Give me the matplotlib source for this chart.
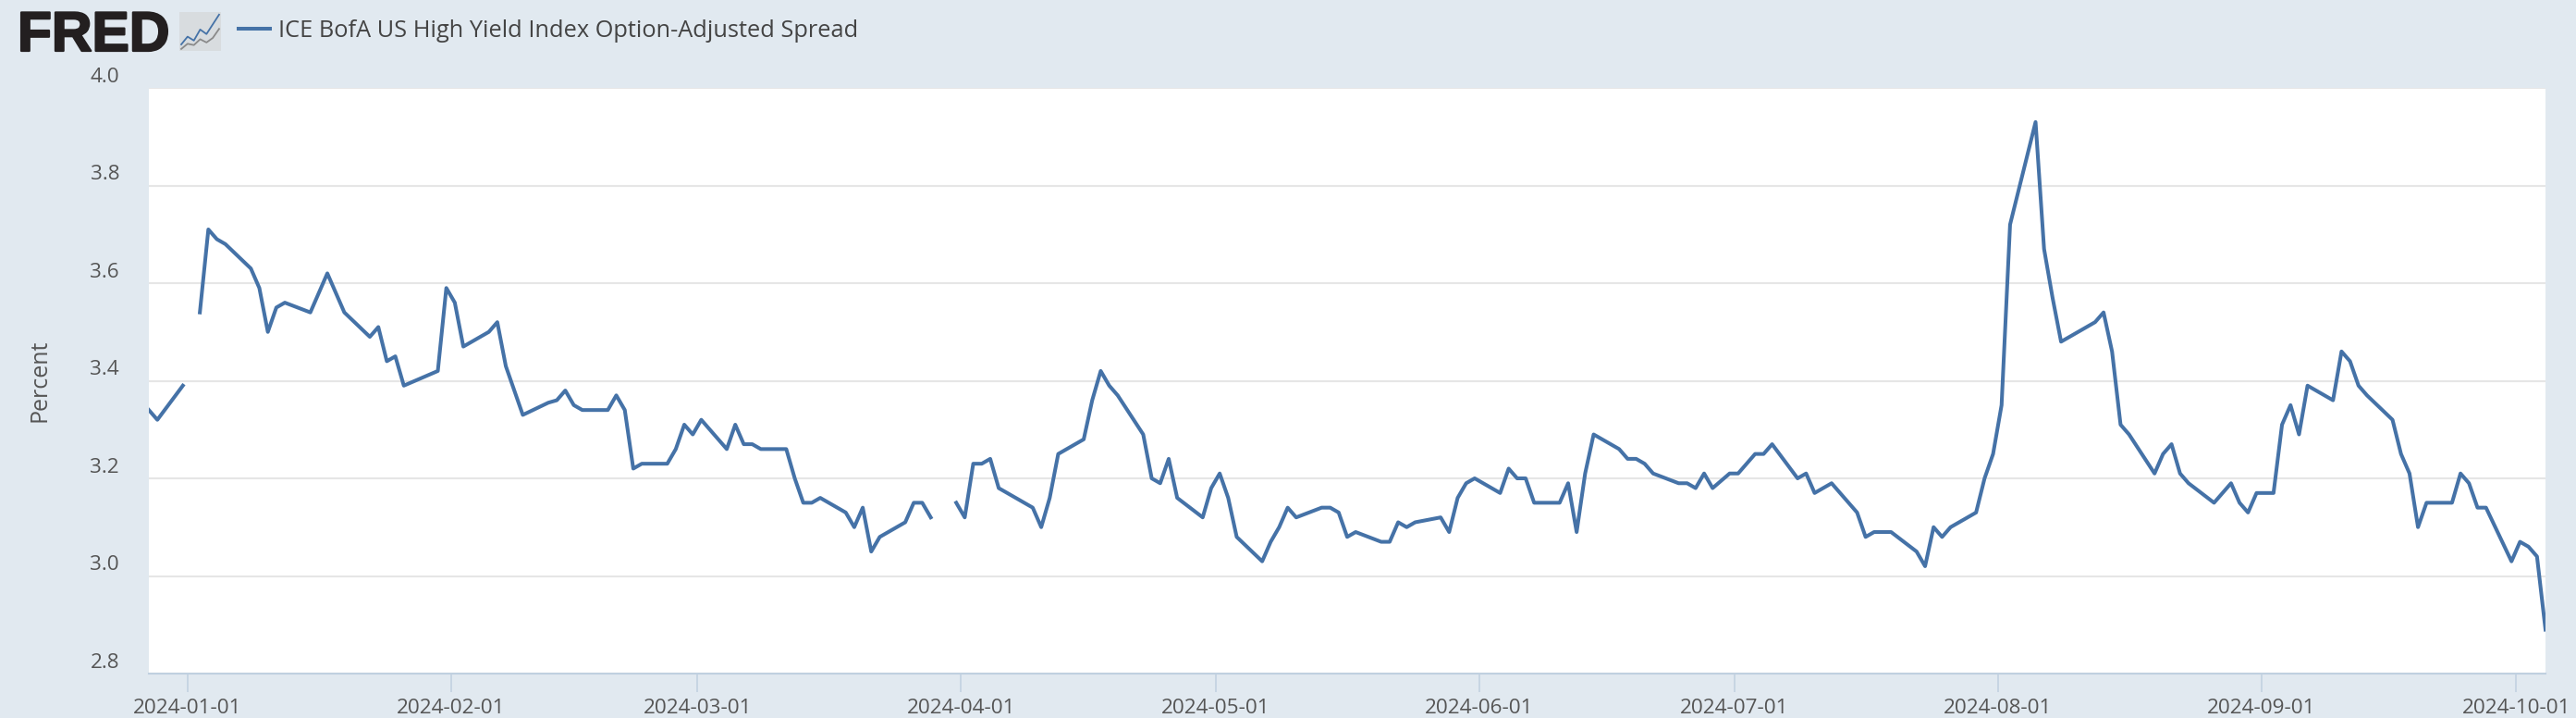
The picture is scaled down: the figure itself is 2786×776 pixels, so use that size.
import numpy as np
import pandas as pd
import matplotlib
matplotlib.use('Agg')
import matplotlib.pyplot as plt
import matplotlib.dates as mdates
import matplotlib.transforms as mtrans
import matplotlib.patheffects as pe

plt.rcParams['font.family'] = ['Open Sans', 'DejaVu Sans']

series_name = 'ICE BofA US High Yield Index Option-Adjusted Spread'

# None = missing day, the line breaks there
dec_jan = [('2023-12-27', 3.34), ('2023-12-28', 3.32), ('2023-12-31', 3.39), ('2024-01-01', None),
           ('2024-01-02', 3.54), ('2024-01-03', 3.71), ('2024-01-04', 3.69), ('2024-01-05', 3.68),
           ('2024-01-08', 3.63), ('2024-01-09', 3.59), ('2024-01-10', 3.50), ('2024-01-11', 3.55),
           ('2024-01-12', 3.56), ('2024-01-15', 3.54), ('2024-01-16', 3.58), ('2024-01-17', 3.62),
           ('2024-01-19', 3.54), ('2024-01-22', 3.49), ('2024-01-23', 3.51), ('2024-01-24', 3.44),
           ('2024-01-25', 3.45), ('2024-01-26', 3.39), ('2024-01-30', 3.42), ('2024-01-31', 3.59)]
feb = [('2024-02-01', 3.56), ('2024-02-02', 3.47), ('2024-02-05', 3.50), ('2024-02-06', 3.52),
       ('2024-02-07', 3.43), ('2024-02-08', 3.38), ('2024-02-09', 3.33), ('2024-02-12', 3.355),
       ('2024-02-13', 3.36), ('2024-02-14', 3.38), ('2024-02-15', 3.35), ('2024-02-16', 3.34),
       ('2024-02-19', 3.34), ('2024-02-20', 3.37), ('2024-02-21', 3.34), ('2024-02-22', 3.22),
       ('2024-02-23', 3.23), ('2024-02-26', 3.23), ('2024-02-27', 3.26), ('2024-02-28', 3.31),
       ('2024-02-29', 3.29)]
mar = [('2024-03-01', 3.32), ('2024-03-04', 3.26), ('2024-03-05', 3.31), ('2024-03-06', 3.27),
       ('2024-03-07', 3.27), ('2024-03-08', 3.26), ('2024-03-11', 3.26), ('2024-03-12', 3.20),
       ('2024-03-13', 3.15), ('2024-03-14', 3.15), ('2024-03-15', 3.16), ('2024-03-18', 3.13),
       ('2024-03-19', 3.10), ('2024-03-20', 3.14), ('2024-03-21', 3.05), ('2024-03-22', 3.08),
       ('2024-03-25', 3.11), ('2024-03-26', 3.15), ('2024-03-27', 3.15), ('2024-03-28', 3.12),
       ('2024-03-29', None), ('2024-03-31', 3.15)]
apr = [('2024-04-01', 3.12), ('2024-04-02', 3.23), ('2024-04-03', 3.23), ('2024-04-04', 3.24),
       ('2024-04-05', 3.18), ('2024-04-09', 3.14), ('2024-04-10', 3.10), ('2024-04-11', 3.16),
       ('2024-04-12', 3.25), ('2024-04-15', 3.28), ('2024-04-16', 3.36), ('2024-04-17', 3.42),
       ('2024-04-18', 3.39), ('2024-04-19', 3.37), ('2024-04-22', 3.29), ('2024-04-23', 3.20),
       ('2024-04-24', 3.19), ('2024-04-25', 3.24), ('2024-04-26', 3.16), ('2024-04-29', 3.12),
       ('2024-04-30', 3.18)]
may = [('2024-05-01', 3.21), ('2024-05-02', 3.16), ('2024-05-03', 3.08), ('2024-05-06', 3.03),
       ('2024-05-07', 3.07), ('2024-05-08', 3.10), ('2024-05-09', 3.14), ('2024-05-10', 3.12),
       ('2024-05-13', 3.14), ('2024-05-14', 3.14), ('2024-05-15', 3.13), ('2024-05-16', 3.08),
       ('2024-05-17', 3.09), ('2024-05-20', 3.07), ('2024-05-21', 3.07), ('2024-05-22', 3.11),
       ('2024-05-23', 3.10), ('2024-05-24', 3.11), ('2024-05-27', 3.12), ('2024-05-28', 3.09),
       ('2024-05-29', 3.16), ('2024-05-30', 3.19), ('2024-05-31', 3.20)]
jun = [('2024-06-03', 3.17), ('2024-06-04', 3.22), ('2024-06-05', 3.20), ('2024-06-06', 3.20),
       ('2024-06-07', 3.15), ('2024-06-10', 3.15), ('2024-06-11', 3.19), ('2024-06-12', 3.09),
       ('2024-06-13', 3.21), ('2024-06-14', 3.29), ('2024-06-17', 3.26), ('2024-06-18', 3.24),
       ('2024-06-19', 3.24), ('2024-06-20', 3.23), ('2024-06-21', 3.21), ('2024-06-24', 3.19),
       ('2024-06-25', 3.19), ('2024-06-26', 3.18), ('2024-06-27', 3.21), ('2024-06-28', 3.18),
       ('2024-06-30', 3.21)]
jul = [('2024-07-01', 3.21), ('2024-07-02', 3.23), ('2024-07-03', 3.25), ('2024-07-04', 3.25),
       ('2024-07-05', 3.27), ('2024-07-08', 3.20), ('2024-07-09', 3.21), ('2024-07-10', 3.17),
       ('2024-07-11', 3.18), ('2024-07-12', 3.19), ('2024-07-15', 3.13), ('2024-07-16', 3.08),
       ('2024-07-17', 3.09), ('2024-07-18', 3.09), ('2024-07-19', 3.09), ('2024-07-22', 3.05),
       ('2024-07-23', 3.02), ('2024-07-24', 3.10), ('2024-07-25', 3.08), ('2024-07-26', 3.10),
       ('2024-07-29', 3.13), ('2024-07-30', 3.20), ('2024-07-31', 3.25)]
aug = [('2024-08-01', 3.35), ('2024-08-02', 3.72), ('2024-08-05', 3.93), ('2024-08-06', 3.67),
       ('2024-08-07', 3.57), ('2024-08-08', 3.48), ('2024-08-09', 3.49), ('2024-08-12', 3.52),
       ('2024-08-13', 3.54), ('2024-08-14', 3.46), ('2024-08-15', 3.31), ('2024-08-16', 3.29),
       ('2024-08-19', 3.21), ('2024-08-20', 3.25), ('2024-08-21', 3.27), ('2024-08-22', 3.21),
       ('2024-08-23', 3.19), ('2024-08-26', 3.15), ('2024-08-27', 3.17), ('2024-08-28', 3.19),
       ('2024-08-29', 3.15), ('2024-08-30', 3.13), ('2024-08-31', 3.17)]
sep_oct = [('2024-09-02', 3.17), ('2024-09-03', 3.31), ('2024-09-04', 3.35), ('2024-09-05', 3.29),
           ('2024-09-06', 3.39), ('2024-09-09', 3.36), ('2024-09-10', 3.46), ('2024-09-11', 3.44),
           ('2024-09-12', 3.39), ('2024-09-13', 3.37), ('2024-09-16', 3.32), ('2024-09-17', 3.25),
           ('2024-09-18', 3.21), ('2024-09-19', 3.10), ('2024-09-20', 3.15), ('2024-09-23', 3.15),
           ('2024-09-24', 3.21), ('2024-09-25', 3.19), ('2024-09-26', 3.14), ('2024-09-27', 3.14),
           ('2024-09-30', 3.03), ('2024-10-01', 3.07), ('2024-10-02', 3.06), ('2024-10-03', 3.04),
           ('2024-10-04', 2.89)]

tick_labels = ['2024-01-01', '2024-02-01', '2024-03-01', '2024-04-01', '2024-05-01',
               '2024-06-01', '2024-07-01', '2024-08-01', '2024-09-01', '2024-10-01']
y_ticks = [2.8, 3.0, 3.2, 3.4, 3.6, 3.8, 4.0]

rows = dec_jan + feb + mar + apr + may + jun + jul + aug + sep_oct
dates = pd.to_datetime([r[0] for r in rows])
values = np.array([np.nan if r[1] is None else r[1] for r in rows])

W, H = 2786, 776
bg = '#E1E9F0'
line_color = '#4572A7'
axis_color = '#C0D0E0'
text_color = '#555555'

fig = plt.figure(figsize=(W / 100, H / 100), dpi=100, facecolor=bg)
ax = fig.add_axes([161 / W, (H - 728) / H, 2592 / W, 633 / H], facecolor='white')

line, = ax.plot(dates, values, color=line_color, lw=2.9, solid_joinstyle='round')

ax.set_xlim(pd.Timestamp('2023-12-27'), pd.Timestamp('2024-10-04'))
ax.set_ylim(2.8, 4.0)

# the month ticks sit a bit left of the data dates in the original
tick_pos = mdates.date2num(pd.to_datetime(tick_labels)) - 0.45
ax.set_xticks(tick_pos)
ax.set_xticklabels(tick_labels)
ax.tick_params(axis='x', length=14.5, width=1.1, color=axis_color, labelsize=16.2,
               labelcolor=text_color, pad=5)

ax.set_yticks(y_ticks)
ax.set_yticklabels(['%.1f' % v for v in y_ticks])
ax.tick_params(axis='y', length=0, labelsize=16.2, labelcolor=text_color, pad=23)
shift = mtrans.ScaledTranslation(0, 1 / 72, fig.dpi_scale_trans)
for lab in ax.get_yticklabels():
    lab.set_verticalalignment('bottom')
    lab.set_transform(lab.get_transform() + shift)

ax.grid(axis='y', color='#E6E6E6', lw=1.5)
ax.set_axisbelow(True)
for s in ['top', 'left', 'right']:
    ax.spines[s].set_visible(False)
ax.spines['bottom'].set_color(axis_color)
ax.spines['bottom'].set_linewidth(1.5)

fig.text(43 / W, 1 - 411 / H, 'Percent', rotation=90, ha='center', va='center',
         fontsize=18, color=text_color)

fig.legend([line], [series_name], loc='center left', frameon=False,
           bbox_to_anchor=(258 / W, 1 - 33 / H), fontsize=18.3, labelcolor='#444444',
           handlelength=1.34, handletextpad=0.36, borderpad=0, borderaxespad=0)

# FRED logo
logo = fig.text(19 / W, 1 - 55 / H, 'FRED', fontsize=43.5, fontweight='bold', color='#231F20',
                family='Liberation Sans', ha='left', va='baseline')
logo.set_path_effects([pe.withStroke(linewidth=1.6, foreground='#231F20')])
icon = fig.add_axes([194 / W, (H - 55) / H, 45 / W, 42 / H], facecolor='#D8DCDF')
icon.plot([0, 1, 2, 3, 4, 5, 6], [1.0, 2.2, 1.6, 3.3, 2.6, 4.1, 5.6], color=line_color, lw=1.3)
icon.plot([0, 1, 2, 3, 4, 5, 6], [0.3, 1.1, 0.9, 1.8, 1.3, 2.0, 3.4], color='#8A8A8A', lw=1.3)
icon.set_xlim(-0.3, 6.3)
icon.set_ylim(0, 6)
icon.set_xticks([])
icon.set_yticks([])
for s in icon.spines.values():
    s.set_visible(False)

fig.savefig('out.png', dpi=100, facecolor=bg)
